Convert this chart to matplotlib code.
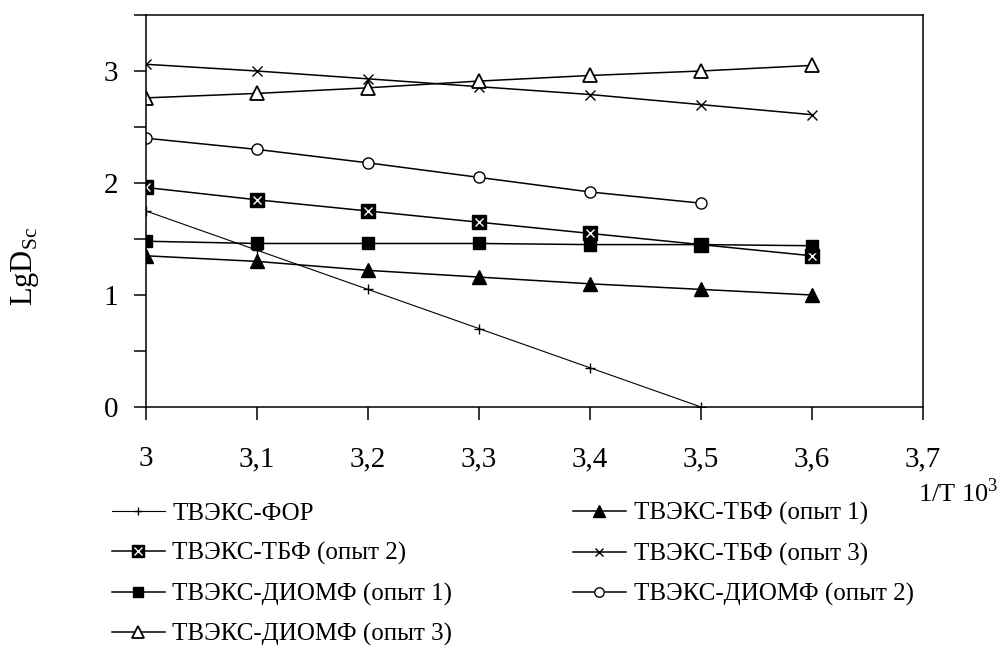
import numpy as np
import matplotlib
matplotlib.use('Agg')
import matplotlib.pyplot as plt
from matplotlib.lines import Line2D
from matplotlib.legend_handler import HandlerTuple

plt.rcParams['font.family'] = ['Liberation Serif', 'DejaVu Serif']
plt.rcParams['mathtext.fontset'] = 'custom'
plt.rcParams['mathtext.rm'] = 'Liberation Serif'

# 1/T * 10^3
x_full = [3.0, 3.1, 3.2, 3.3, 3.4, 3.5, 3.6]
x_short = [3.0, 3.1, 3.2, 3.3, 3.4, 3.5]

# LgDsc for each system
lg_for = [1.75, 1.40, 1.05, 0.70, 0.35, 0.00]
lg_tbf1 = [1.35, 1.30, 1.22, 1.16, 1.10, 1.05, 1.00]
lg_tbf2 = [1.96, 1.85, 1.75, 1.65, 1.55, 1.45, 1.35]
lg_tbf3 = [3.06, 3.00, 2.93, 2.86, 2.79, 2.70, 2.61]
lg_diomf1 = [1.48, 1.46, 1.46, 1.46, 1.45, 1.45, 1.44]
lg_diomf2 = [2.40, 2.30, 2.18, 2.05, 1.92, 1.82]
lg_diomf3 = [2.76, 2.80, 2.85, 2.91, 2.96, 3.00, 3.05]

names = ['ТВЭКС-ФОР', 'ТВЭКС-ТБФ (опыт 1)', 'ТВЭКС-ТБФ (опыт 2)',
         'ТВЭКС-ТБФ (опыт 3)', 'ТВЭКС-ДИОМФ (опыт 1)',
         'ТВЭКС-ДИОМФ (опыт 2)', 'ТВЭКС-ДИОМФ (опыт 3)']

x_ticks = [3.0, 3.1, 3.2, 3.3, 3.4, 3.5, 3.6, 3.7]
x_tick_labels = ['3', '3,1', '3,2', '3,3', '3,4', '3,5', '3,6', '3,7']
y_ticks = [0, 0.5, 1, 1.5, 2, 2.5, 3, 3.5]
y_tick_labels = ['0', '', '1', '', '2', '', '3', '']

W, H = 1008, 645
fig = plt.figure(figsize=(W / 100, H / 100), dpi=100)
ax = fig.add_axes([146 / W, 1 - 407 / H, (923 - 146) / W, (407 - 15) / H])

lw = 1.1
h_for, = ax.plot(x_short, lg_for, color='black', lw=0.8, marker='+', ms=7, mew=1)
h_tbf1, = ax.plot(x_full, lg_tbf1, color='black', lw=lw, marker='^', ms=10, mfc='black', mec='black')
h_tbf2a, = ax.plot(x_full, lg_tbf2, color='black', lw=lw, marker='s', ms=10, mfc='black', mec='black')
h_tbf2b, = ax.plot(x_full, lg_tbf2, ls='none', marker='x', ms=6, mew=1, color='white')
h_tbf3, = ax.plot(x_full, lg_tbf3, color='black', lw=lw, marker='x', ms=7, mew=1)
h_d1, = ax.plot(x_full, lg_diomf1, color='black', lw=lw, marker='s', ms=9, mfc='black', mec='black')
h_d2, = ax.plot(x_short, lg_diomf2, color='black', lw=lw, marker='o', ms=8, mfc='white', mec='black', mew=1)
h_d3, = ax.plot(x_full, lg_diomf3, color='black', lw=lw, marker='^', ms=10, mfc='white', mec='black', mew=1.3)

ax.set_xlim(3.0, 3.7)
ax.set_ylim(0, 3.5)
ax.set_xticks(x_ticks)
ax.set_xticklabels(x_tick_labels)
ax.set_yticks(y_ticks)
ax.set_yticklabels(y_tick_labels)
ax.tick_params(axis='x', direction='out', length=9, width=1.1, labelsize=21, pad=19)
ax.tick_params(axis='y', direction='out', length=9, width=1.1, labelsize=21, pad=11)
for s in ax.spines.values():
    s.set_linewidth(1.1)

fig.text(25 / W, 1 - 267 / H, r'LgD$_{\mathregular{Sc}}$', rotation=90, fontsize=22,
         ha='center', va='center')
fig.text(918 / W, 1 - 493 / H, r'1/T 10$^{3}$', fontsize=19, ha='left', va='center')

leg_kw = dict(loc='upper left', frameon=False, borderpad=0, borderaxespad=0,
              handlelength=2.1, handletextpad=0.32, labelspacing=0.7, fontsize=18,
              markerscale=0.85, handler_map={tuple: HandlerTuple(ndivide=1)})
fig.legend([h_for, (h_tbf2a, h_tbf2b), h_d1, h_d3],
           [names[0], names[2], names[4], names[6]],
           bbox_to_anchor=(112 / W, 1 - 502 / H), **leg_kw)
fig.legend([h_tbf1, h_tbf3, h_d2],
           [names[1], names[3], names[5]],
           bbox_to_anchor=(573 / W, 1 - 502 / H), **leg_kw)

fig.savefig('out.png', dpi=100)
